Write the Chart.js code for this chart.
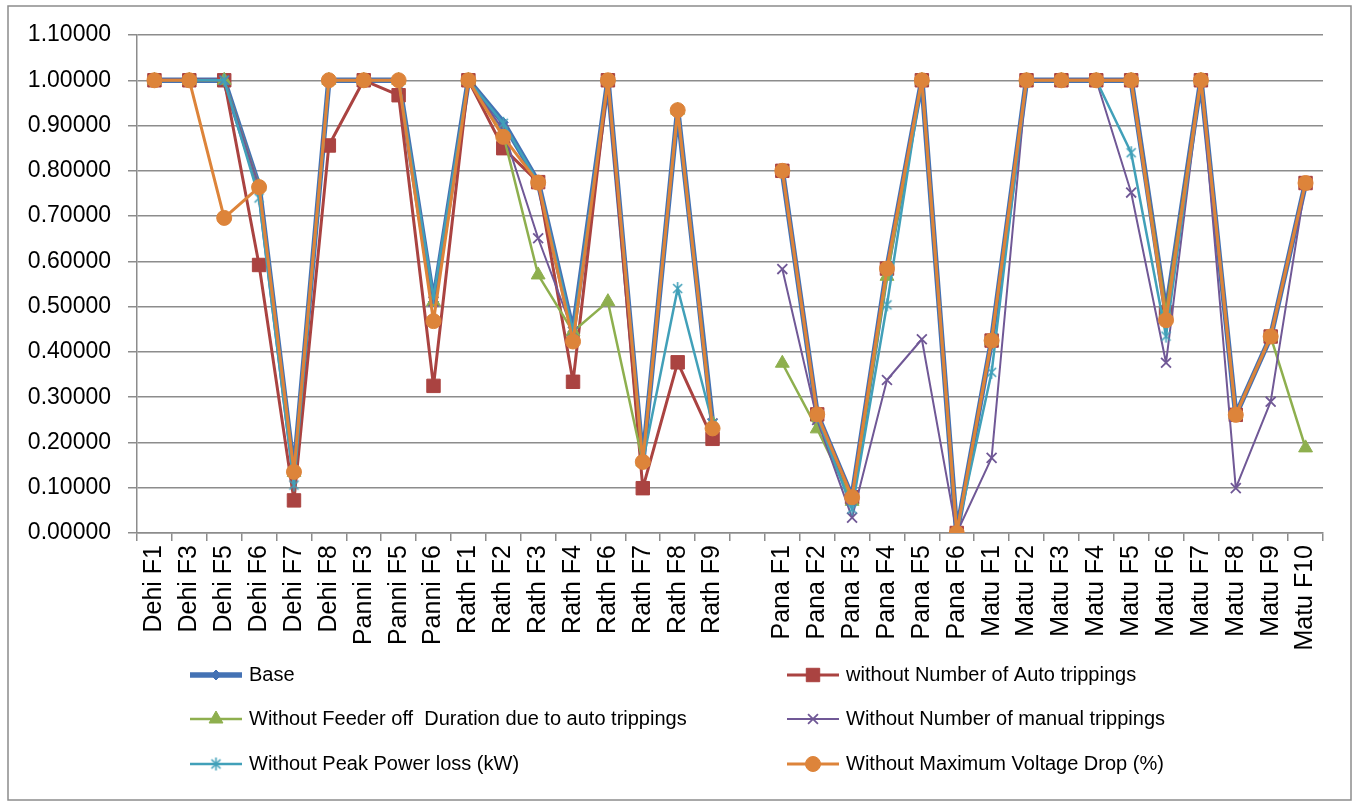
<!DOCTYPE html>
<html>
<head>
<meta charset="utf-8">
<title>Feeder index comparison</title>
<script src="https://cdn.jsdelivr.net/npm/chart.js@4.4.1/dist/chart.umd.min.js"></script>
<style>
  html, body { margin: 0; padding: 0; background: #fff; }
  #wrap { width: 1357px; height: 805px; }
</style>
</head>
<body>
<div id="wrap"><canvas id="c" width="1357" height="805"></canvas></div>
<script>
// Feeders (an empty slot separates the two substation groups)
const categories = ['Dehi F1','Dehi F3','Dehi F5','Dehi F6','Dehi F7','Dehi F8','Panni F3','Panni F5','Panni F6',
  'Rath F1','Rath F2','Rath F3','Rath F4','Rath F6','Rath F7','Rath F8','Rath F9','',
  'Pana F1','Pana F2','Pana F3','Pana F4','Pana F5','Pana F6',
  'Matu F1','Matu F2','Matu F3','Matu F4','Matu F5','Matu F6','Matu F7','Matu F8','Matu F9','Matu F10'];

const base        = [1,1,1,0.765,0.134,1,1,1,0.511,1,0.907,0.775,0.445,1,0.157,0.934,0.242,null,0.800,0.262,0.079,0.584,1,0,0.425,1,1,1,1,0.487,1,0.261,0.434,0.773];
const noAutoTrips = [1,1,1,0.592,0.072,0.856,1,0.967,0.325,1,0.850,0.775,0.334,1,0.099,0.377,0.208,null,0.800,0.262,0.079,0.584,1,0,0.425,1,1,1,1,0.487,1,0.261,0.434,0.773];
const noFeederOff = [1,1,1,0.765,0.134,1,1,1,0.511,1,0.880,0.570,0.445,0.511,0.157,0.934,0.242,null,0.375,0.230,0.070,0.567,1,0,0.425,1,1,1,1,0.487,1,0.261,0.434,0.188];
const noManual    = [1,1,1,0.765,0.134,1,1,1,0.511,1,0.890,0.651,0.445,1,0.157,0.934,0.242,null,0.583,0.250,0.034,0.338,0.428,0,0.166,1,1,1,0.752,0.376,1,0.099,0.290,0.773];
const noPeakLoss  = [1,1,1,0.740,0.106,1,1,1,0.520,1,0.905,0.775,0.445,1,0.157,0.540,0.242,null,0.800,0.258,0.053,0.504,1,0,0.355,1,1,1,0.840,0.435,1,0.261,0.434,0.773];
const noVoltDrop  = [1,1,0.696,0.764,0.135,1,1,1,0.468,1,0.875,0.774,0.423,1,0.157,0.934,0.231,null,0.800,0.262,0.079,0.584,1,0,0.425,1,1,1,1,0.470,1,0.261,0.434,0.773];

const seriesNames = ['Base','without Number of Auto trippings','Without Feeder off  Duration due to auto trippings',
  'Without Number of manual trippings','Without Peak Power loss (kW)','Without Maximum Voltage Drop (%)'];

const yTickMax = 1.1, yTickStep = 0.1;

const FONT = "'Liberation Sans', Arial, sans-serif";
const GRID = '#8c8c8c';

// Star marker: an X crossed by a vertical stroke
function starMarker(color) {
  const s = 15, c = document.createElement('canvas');
  c.width = s; c.height = s;
  const g = c.getContext('2d');
  g.strokeStyle = color; g.lineWidth = 1.6; g.lineCap = 'butt';
  g.beginPath();
  g.moveTo(3, 3); g.lineTo(12, 12);
  g.moveTo(12, 3); g.lineTo(3, 12);
  g.moveTo(7.5, 1); g.lineTo(7.5, 14);
  g.stroke();
  return c;
}

const colors = ['#4472B4', '#AA4341', '#8EAF4E', '#705896', '#41A0B9', '#DD843A'];
const star = starMarker(colors[4]);

function ds(label, data, color, opts) {
  return Object.assign({
    label, data,
    borderColor: color, backgroundColor: color,
    pointBorderColor: color, pointBackgroundColor: color,
    borderWidth: 2.5, pointBorderWidth: 1,
    borderJoinStyle: 'round', borderCapStyle: 'round',
    spanGaps: false, tension: 0,
  }, opts);
}

const datasets = [
  ds(seriesNames[0], base, colors[0], { borderWidth: 5.5, pointStyle: 'rectRot', pointRadius: 5, order: 6 }),
  ds(seriesNames[1], noAutoTrips, colors[1], { borderWidth: 3, pointStyle: 'rect', pointRadius: 9.5, order: 5 }),
  ds(seriesNames[2], noFeederOff, colors[2], { pointStyle: 'triangle', pointRadius: 8, order: 4 }),
  ds(seriesNames[3], noManual, colors[3], { borderWidth: 2, pointStyle: 'crossRot', pointRadius: 7, pointBorderWidth: 1.8, order: 3 }),
  ds(seriesNames[4], noPeakLoss, colors[4], { pointStyle: star, pointRadius: 7, order: 2 }),
  ds(seriesNames[5], noVoltDrop, colors[5], { borderWidth: 3, pointStyle: 'circle', pointRadius: 7.5, order: 1 }),
];

// White page with a thin frame around the whole chart
const framePlugin = {
  id: 'frame',
  beforeDraw(chart) {
    const ctx = chart.ctx;
    ctx.save();
    ctx.fillStyle = '#fff';
    ctx.fillRect(0, 0, chart.width, chart.height);
    ctx.strokeStyle = GRID;
    ctx.lineWidth = 1.5;
    ctx.strokeRect(8, 6, chart.width - 14, chart.height - 11);
    ctx.restore();
  }
};

// Two-column legend below the category labels
const gridLegendPlugin = {
  id: 'gridLegend',
  afterDraw(chart) {
    const ctx = chart.ctx;
    const colX = [190, 787], rowY = [675, 719, 764], lineLen = 52;
    ctx.save();
    ctx.font = '20px ' + FONT;
    ctx.textBaseline = 'middle';
    ctx.textAlign = 'left';
    chart.data.datasets.forEach((d, i) => {
      const x = colX[i % 2], y = rowY[Math.floor(i / 2)];
      ctx.strokeStyle = d.borderColor;
      ctx.lineWidth = d.borderWidth;
      ctx.lineCap = 'butt';
      ctx.beginPath();
      ctx.moveTo(x, y); ctx.lineTo(x + lineLen, y);
      ctx.stroke();
      ctx.fillStyle = d.pointBackgroundColor;
      ctx.strokeStyle = d.pointBorderColor;
      ctx.lineWidth = d.pointBorderWidth;
      Chart.helpers.drawPoint(ctx, {
        pointStyle: d.pointStyle, radius: d.pointRadius, rotation: 0, borderWidth: d.pointBorderWidth
      }, x + lineLen / 2, y);
      ctx.fillStyle = '#000';
      ctx.fillText(d.label, x + lineLen + 7, y);
    });
    ctx.restore();
  }
};

new Chart(document.getElementById('c'), {
  type: 'line',
  data: { labels: categories, datasets },
  plugins: [framePlugin, gridLegendPlugin],
  options: {
    responsive: false,
    animation: false,
    devicePixelRatio: 1,
    layout: { padding: { left: 0, right: 34, top: 35, bottom: 0 } },
    plugins: { legend: { display: false }, tooltip: { enabled: false } },
    scales: {
      x: {
        type: 'category',
        offset: true,
        grid: { offset: true, drawOnChartArea: false, drawTicks: true, tickLength: 8, color: GRID, lineWidth: 1.5 },
        border: { display: true, color: GRID, width: 1.5 },
        ticks: { autoSkip: false, minRotation: 90, maxRotation: 90, padding: 4, color: '#000', font: { family: FONT, size: 25 } },
        afterFit(scale) { scale.height = 272; }
      },
      y: {
        min: 0, max: yTickMax,
        grid: { color: GRID, lineWidth: 1.5, tickLength: 9, drawTicks: true },
        border: { display: true, color: GRID, width: 1.5 },
        ticks: {
          stepSize: yTickStep, padding: 17, color: '#000',
          font: { family: FONT, size: 23 },
          callback: v => Number(v).toFixed(5)
        },
        afterFit(scale) { scale.width = 137; }
      }
    }
  }
});
</script>
</body>
</html>
